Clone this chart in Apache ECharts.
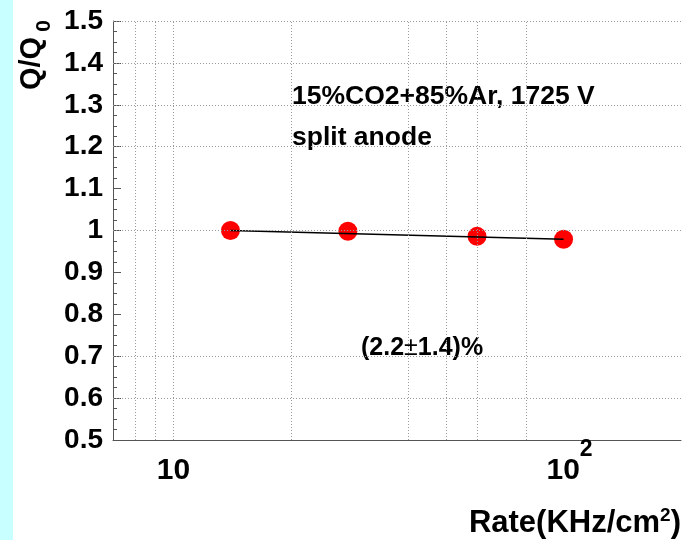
<!DOCTYPE html>
<html>
<head>
<meta charset="utf-8">
<script src="https://cdn.jsdelivr.net/npm/echarts@6/dist/echarts.min.js"></script>
<style>
html,body{margin:0;padding:0;background:#fff;}
#chart{width:686px;height:540px;}
</style>
</head>
<body>
<div id="chart"></div>
<script>
// ---- data ----
const rateValues = [14, 28, 60, 100];
const ratioValues = [1.0, 0.998, 0.986, 0.979];
const fitRates = [14, 100];
const fitRatios = [1.0, 0.979];
const xGridValues = [8, 9, 10, 20, 40, 50, 60, 80];
const yGridValues = [0.6, 0.7, 1.0, 1.2, 1.3, 1.4, 1.5];
const xLabelValues = [10, 100];
const annotation1 = '15%CO2+85%Ar, 1725 V';
const annotation2 = 'split anode';
const slopeText = ['(2.2', '±', '1.4)%'];
const xTitle = ['Rate(KHz/cm', '2', ')'];
const yTitle = ['Q/Q', '0'];

const FONT = '"Liberation Sans", Arial, Helvetica, sans-serif';
const chart = echarts.init(document.getElementById('chart'), null, {renderer: 'canvas'});

const gridLineStyle = {type: [1, 2], color: '#9a9a9a', width: 1};

const option = {
  animation: false,
  backgroundColor: '#ffffff',
  grid: {left: 113, top: 21, right: 5, bottom: 100, containLabel: false},
  xAxis: {
    type: 'log', logBase: 10, min: 7, max: 200,
    axisLine: {show: true, lineStyle: {color: '#555', width: 1}},
    axisTick: {show: false},
    minorTick: {show: false},
    splitLine: {show: false},
    axisLabel: {
      show: true, margin: -2, showMinLabel: true, showMaxLabel: true,
      formatter: function (v) {
        if (Math.abs(v - xLabelValues[0]) < 1e-6) return '{n|10}';
        if (Math.abs(v - xLabelValues[1]) < 1e-6) return '{m|10}{s|2}';
        return '';
      },
      rich: {
        n: {fontSize: 30, fontWeight: 'bold', fontFamily: FONT, color: '#000', lineHeight: 48, verticalAlign: 'bottom'},
        m: {fontSize: 30, fontWeight: 'bold', fontFamily: FONT, color: '#000', lineHeight: 48, padding: [0, 0, 0, 12], verticalAlign: 'bottom'},
        s: {fontSize: 23, fontWeight: 'bold', fontFamily: FONT, color: '#000', lineHeight: 17, verticalAlign: 'top'}
      }
    }
  },
  yAxis: {
    type: 'value', min: 0.5, max: 1.5, interval: 0.1,
    axisLine: {show: true, lineStyle: {color: '#555', width: 1}},
    axisTick: {show: true, inside: true, length: 8, lineStyle: {color: '#555'}},
    minorTick: {show: true, splitNumber: 4, length: 4, lineStyle: {color: '#555'}},
    splitLine: {show: false},
    minorSplitLine: {show: false},
    axisLabel: {
      margin: 10, color: '#000', fontSize: 28, fontWeight: 'bold', fontFamily: FONT,
      formatter: function (v) { return String(Number(v.toFixed(1))); }
    }
  },
  series: [
    {
      type: 'line', data: xGridValues.map(function (x) { return [x, 1]; }),
      symbol: 'none', lineStyle: {opacity: 0}, silent: true, z: 1,
      markLine: {
        silent: true, symbol: 'none', animation: false,
        label: {show: false},
        lineStyle: gridLineStyle,
        data: xGridValues.map(function (x) { return {xAxis: x}; })
          .concat(yGridValues.map(function (y) { return {yAxis: y}; }))
      }
    },
    {
      type: 'line', data: fitRates.map(function (x, i) { return [x, fitRatios[i]]; }),
      symbol: 'none', lineStyle: {color: '#000', width: 1.6}, z: 3, silent: true
    },
    {
      type: 'scatter', data: rateValues.map(function (x, i) { return [x, ratioValues[i]]; }),
      symbol: 'circle', symbolSize: 19, itemStyle: {color: '#ff0000', opacity: 1}, z: 2
    }
  ],
  graphic: [
    {type: 'rect', left: 0, top: 0, shape: {width: 13, height: 540}, style: {fill: '#c8ffff'}, silent: true, z: -10},
    {
      type: 'text', x: 55, y: 90, rotation: Math.PI / 2,
      style: {
        text: '{a|' + yTitle[0] + '}{b|' + yTitle[1] + '}',
        align: 'left', verticalAlign: 'bottom',
        rich: {
          a: {fontSize: 29, fontWeight: 'bold', fontFamily: FONT, fill: '#000', lineHeight: 38, verticalAlign: 'top'},
          b: {fontSize: 21, fontWeight: 'bold', fontFamily: FONT, fill: '#000', lineHeight: 20, padding: [0, 0, 0, 5], verticalAlign: 'bottom'}
        }
      }
    },
    {
      type: 'text', x: 681, y: 505,
      style: {
        text: '{a|' + xTitle[0] + '}{s|' + xTitle[1] + '}{a|' + xTitle[2] + '}',
        align: 'right', verticalAlign: 'top',
        rich: {
          a: {fontSize: 31, fontWeight: 'bold', fontFamily: FONT, fill: '#000', lineHeight: 34, verticalAlign: 'bottom'},
          s: {fontSize: 19, fontWeight: 'bold', fontFamily: FONT, fill: '#000', lineHeight: 26, padding: [1, 0, 0, 0], verticalAlign: 'top'}
        }
      }
    },
    {
      type: 'text', x: 292, y: 97,
      style: {text: annotation1, font: 'bold 26.5px ' + FONT, fill: '#000', align: 'left', verticalAlign: 'middle'}
    },
    {
      type: 'text', x: 292, y: 137.5,
      style: {text: annotation2, font: 'bold 26.5px ' + FONT, fill: '#000', align: 'left', verticalAlign: 'middle'}
    },
    {
      type: 'text', x: 361, y: 348,
      style: {
        text: '{a|' + slopeText[0] + '}{b|' + slopeText[1] + '}{a|' + slopeText[2] + '}',
        align: 'left', verticalAlign: 'middle',
        rich: {
          a: {fontSize: 25, fontWeight: 'bold', fontFamily: FONT, fill: '#000'},
          b: {fontSize: 25, fontWeight: 'normal', fontFamily: FONT, fill: '#000'}
        }
      }
    }
  ]
};
chart.setOption(option);
</script>
</body>
</html>
